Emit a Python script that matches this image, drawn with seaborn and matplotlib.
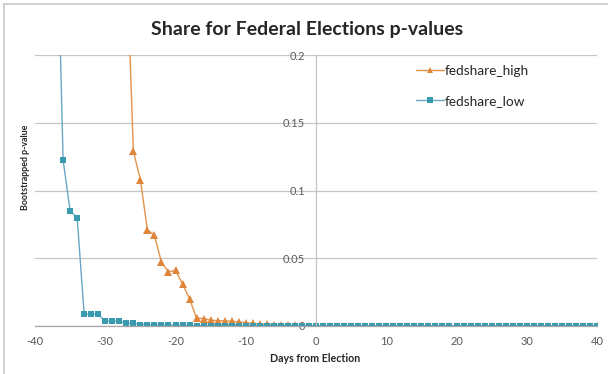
import matplotlib
matplotlib.use("Agg")
import matplotlib.pyplot as plt
from matplotlib.lines import Line2D
import pandas as pd
import seaborn as sns


DAYS = list(range(-40, 41))

# values above 0.2 fall outside the visible range and are clipped, as in the source
FEDSHARE_HIGH = [
    0.93, 0.88, 0.84, 0.79, 0.72, 0.66, 0.60, 0.55, 0.49, 0.44,
    0.40, 0.36, 0.32, 0.28, 0.129, 0.108, 0.071, 0.067, 0.047, 0.040,
    0.041, 0.031, 0.020, 0.0057, 0.0055, 0.0042, 0.0040, 0.0038, 0.0034, 0.0030,
    0.0024, 0.0019, 0.0015, 0.0012, 0.0010, 0.0008, 0.0006, 0.0005, 0.0004, 0.0003,
    0.0002, 0.0002, 0.0002, 0.0002, 0.0002, 0.0002, 0.0001, 0.0001, 0.0001, 0.0001,
    0.0001, 0.0001, 0.0001, 0.0001, 0.0001, 0.0001, 0.0001, 0.0001, 0.0001, 0.0001,
    0.0001, 0.0001, 0.0001, 0.0001, 0.0001, 0.0001, 0.0001, 0.0001, 0.0001, 0.0001,
    0.0001, 0.0001, 0.0001, 0.0001, 0.0001, 0.0001, 0.0001, 0.0001, 0.0001, 0.0001,
    0.0001,
]

FEDSHARE_LOW = [
    0.71, 0.62, 0.52, 0.33, 0.1225, 0.085, 0.080, 0.0085, 0.0090, 0.0085,
    0.0035, 0.0038, 0.0034, 0.0022, 0.0019, 0.0011, 0.0011, 0.0008, 0.0007, 0.0007,
    0.0006, 0.0006, 0.0004, 0.0003, 0.0003, 0.0003, 0.0003, 0.0003, 0.0003, 0.0003,
    0.0003, 0.0003, 0.0003, 0.0003, 0.0003, 0.0003, 0.0003, 0.0003, 0.0003, 0.0003,
    0.0002, 0.0002, 0.0002, 0.0002, 0.0002, 0.0002, 0.0002, 0.0002, 0.0002, 0.0002,
    0.0002, 0.0002, 0.0002, 0.0002, 0.0002, 0.0002, 0.0002, 0.0002, 0.0002, 0.0002,
    0.0002, 0.0002, 0.0002, 0.0002, 0.0002, 0.0002, 0.0002, 0.0002, 0.0002, 0.0002,
    0.0002, 0.0002, 0.0002, 0.0002, 0.0002, 0.0002, 0.0002, 0.0002, 0.0002, 0.0002,
    0.0002,
]

SERIES = ["fedshare_high", "fedshare_low"]
X_TICKS = [-40, -30, -20, -10, 0, 10, 20, 30, 40]
Y_TICKS = [0, 0.05, 0.1, 0.15, 0.2]
Y_TICK_LABELS = ["0", "0.05", "0.1", "0.15", "0.2"]

LINE_COLORS = {"fedshare_high": "#E5934A", "fedshare_low": "#6AA7C6"}
MARKER_COLORS = {"fedshare_high": "#E0863A", "fedshare_low": "#3A9AB0"}
MARKERS = {"fedshare_high": "^", "fedshare_low": "s"}


def main() -> None:
    sns.set_theme(style="white")
    plt.rcParams["font.family"] = ["Lato", "DejaVu Sans"]

    df = pd.concat(
        [
            pd.DataFrame({"day": DAYS, "p_value": FEDSHARE_HIGH, "series": "fedshare_high"}),
            pd.DataFrame({"day": DAYS, "p_value": FEDSHARE_LOW, "series": "fedshare_low"}),
        ],
        ignore_index=True,
    )

    fig = plt.figure(figsize=(6.08, 3.74), dpi=100)
    ax = fig.add_axes([35 / 608, 1 - 326 / 374, 562 / 608, 271 / 374])

    for name in SERIES:
        sns.lineplot(
            data=df[df["series"] == name],
            x="day",
            y="p_value",
            color=LINE_COLORS[name],
            marker=MARKERS[name],
            markersize=5 if name == "fedshare_low" else 6,
            markeredgewidth=0,
            linewidth=1.0,
            label=name,
            ax=ax,
        )

    for line, name in zip(ax.lines, SERIES):
        line.set_markerfacecolor(MARKER_COLORS[name])
        line.set_markeredgecolor(MARKER_COLORS[name])

    ax.set_xlim(-40, 40)
    ax.set_ylim(0, 0.2)
    ax.set_xticks(X_TICKS)
    ax.set_xticklabels([str(t) for t in X_TICKS])
    ax.set_yticks(Y_TICKS)
    ax.set_yticklabels(Y_TICK_LABELS)

    ax.grid(axis="y", color="#C4C4C4", linewidth=0.9)
    ax.grid(axis="x", visible=False)
    ax.set_axisbelow(True)

    for side in ["top", "right"]:
        ax.spines[side].set_visible(False)
    ax.spines["left"].set_position(("data", 0))
    ax.spines["left"].set_color("#C4C4C4")
    ax.spines["left"].set_linewidth(0.9)
    ax.spines["bottom"].set_color("#A6A6A6")
    ax.spines["bottom"].set_linewidth(0.9)

    ax.tick_params(axis="y", length=0, pad=8, labelsize=8, labelcolor="#595959")
    ax.tick_params(axis="x", length=0, pad=7, labelsize=8, labelcolor="#595959")

    ax.set_xlabel("")
    ax.set_ylabel("")
    fig.text(315 / 608, 1 - 359 / 374, "Days from Election", ha="center", va="center",
             fontsize=7.7, fontweight="bold", color="#262626")
    fig.text(26 / 608, 1 - 167 / 374, "Bootstrapped p-value", ha="center", va="center",
             rotation=90, fontsize=6.4, fontweight="bold", color="#262626")
    fig.text(307 / 608, 1 - 30 / 374, "Share for Federal Elections p-values", ha="center",
             va="center", fontsize=14, fontweight="bold", color="#262626")

    handles = [
        Line2D([], [], color=LINE_COLORS[n], marker=MARKERS[n], markersize=5,
               markerfacecolor=MARKER_COLORS[n], markeredgewidth=0, linewidth=1.0)
        for n in SERIES
    ]
    ax.legend(handles, SERIES, loc="upper left", bbox_to_anchor=(405 / 608, 1 - 54 / 374),
              bbox_transform=fig.transFigure, frameon=False, fontsize=9.8,
              labelspacing=1.3, handlelength=2.1, handletextpad=0.05, borderpad=0.3)

    fig.add_artist(Line2D([4 / 608, 4 / 608], [0, 1 - 4 / 374], transform=fig.transFigure,
                          color="#C8C8C8", linewidth=1.2))
    fig.add_artist(Line2D([4 / 608, 1], [1 - 4 / 374, 1 - 4 / 374], transform=fig.transFigure,
                          color="#C8C8C8", linewidth=1.2))

    fig.savefig("out.png", dpi=100)
    plt.close(fig)


if __name__ == "__main__":
    main()
